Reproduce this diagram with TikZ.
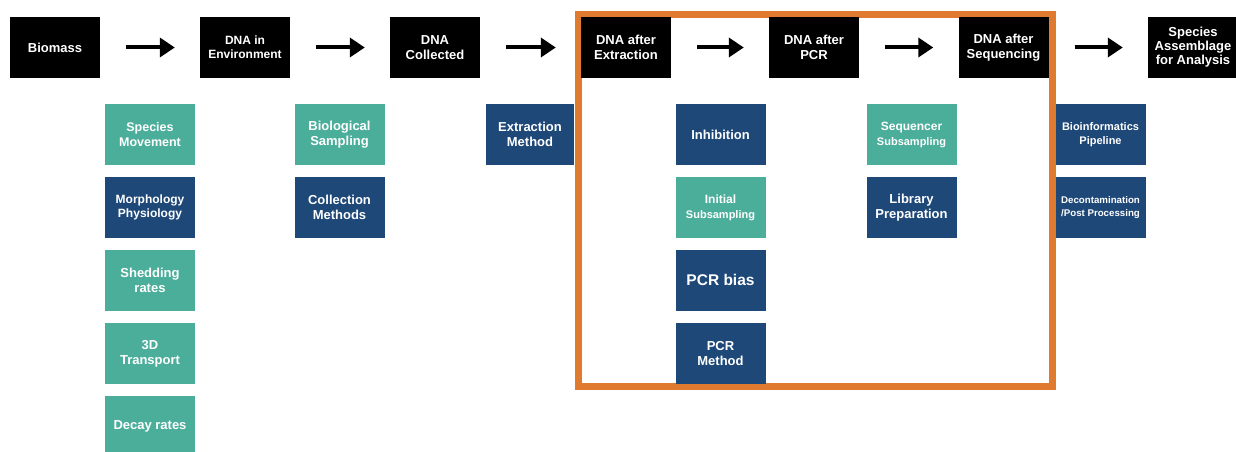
\documentclass[tikz,border=0pt]{standalone}
\usepackage{fontspec}
\setmainfont{Liberation Sans}
\usepackage{tikz}
\usetikzlibrary{arrows.meta}

\definecolor{bioteal}{HTML}{4BAE9B}
\definecolor{techblue}{HTML}{1E4878}
\definecolor{labframe}{HTML}{E07A2E}

\begin{document}
\begin{tikzpicture}[x=1pt,y=-1pt]

	\tikzstyle stage box=[fill=black, text=white, minimum width=90pt, minimum height=61pt, inner sep=0pt, align=center, font=\fontsize{13}{15}\selectfont\bfseries];
	\tikzstyle bio factor=[fill=bioteal, text=white, minimum width=90pt, minimum height=61pt, inner sep=0pt, align=center, font=\fontsize{13}{15}\selectfont\bfseries];
	\tikzstyle tech factor=[bio factor, fill=techblue];
	\tikzstyle flow arrow=[line width=4pt, -{Triangle[length=15pt,width=19pt]}, shorten <=26pt, shorten >=25pt];

	\clip (0,0) rectangle (1236,452);

	% lab part of the workflow
	\draw[labframe, line width=7pt] (578,15) rectangle (1052,386);

	% stages
	\node[stage box] (biomass) at (55,47.5) {Biomass};
	\node[stage box, font=\fontsize{12}{14}\selectfont\bfseries] (dnaenv) at (245,47.5) {DNA in\\Environment};
	\node[stage box] (dnacoll) at (435,47.5) {DNA\\Collected};
	\node[stage box] (dnaext) at (626,47.5) {DNA after\\Extraction};
	\node[stage box] (dnapcr) at (814,47.5) {DNA after\\PCR};
	\node[stage box] (dnaseq) at (1003.5,47.5) {DNA after\\Sequencing};
	\node[stage box, font=\fontsize{13}{14}\selectfont\bfseries] (assemblage) at (1193,47.5) {Species\\Assemblage\\for Analysis};

	\draw[flow arrow] (biomass.east) -- (dnaenv.west);
	\draw[flow arrow] (dnaenv.east) -- (dnacoll.west);
	\draw[flow arrow] (dnacoll.east) -- (dnaext.west);
	\draw[flow arrow] (dnaext.east) -- (dnapcr.west);
	\draw[flow arrow] (dnapcr.east) -- (dnaseq.west);
	\draw[flow arrow] (dnaseq.east) -- (assemblage.west);

	% biomass -> environment
	\node[bio factor, font=\fontsize{12.5}{14.5}\selectfont\bfseries] (movement) at (150,134.5) {Species\\Movement};
	\node[tech factor, font=\fontsize{12}{14}\selectfont\bfseries] (morphology) at (150,207.5) {Morphology\\Physiology};
	\node[bio factor] (shedding) at (150,280) {Shedding\\rates};
	\node[bio factor] (transport) at (150,353.5) {3D\\Transport};
	\node[bio factor] (decay) at (150,426.5) {Decay rates};

	% collection
	\node[bio factor] (biosampling) at (339.5,134.5) {Biological\\Sampling};
	\node[tech factor] (collmethods) at (339.5,207.5) {Collection\\Methods};

	% extraction
	\node[tech factor, minimum width=88pt] (extmethod) at (530,134.5) {Extraction\\Method};

	% pcr
	\node[tech factor] (inhibition) at (720.5,134.5) {Inhibition};
	\node[bio factor] (initsub) at (720.5,207.5) {{\fontsize{12}{14}\selectfont Initial}\\{\fontsize{11}{13}\selectfont Subsampling}};
	\node[tech factor, font=\fontsize{15.5}{17}\selectfont\bfseries] (pcrbias) at (720.5,280) {PCR bias};
	\node[tech factor] (pcrmethod) at (720.5,353.5) {PCR\\Method};

	% sequencing
	\node[bio factor] (seqsub) at (911.5,134.5) {{\fontsize{12}{14}\selectfont Sequencer}\\{\fontsize{11}{13}\selectfont Subsampling}};
	\node[tech factor] (libprep) at (911.5,207.5) {Library\\Preparation};

	% after sequencing
	\node[tech factor, font=\fontsize{11}{14}\selectfont\bfseries] (pipeline) at (1100.5,134.5) {Bioinformatics\\Pipeline};
	\node[tech factor, font=\fontsize{9.7}{13}\selectfont\bfseries] (decontam) at (1100.5,207.5) {Decontamination\\/Post Processing};

\end{tikzpicture}
\end{document}
